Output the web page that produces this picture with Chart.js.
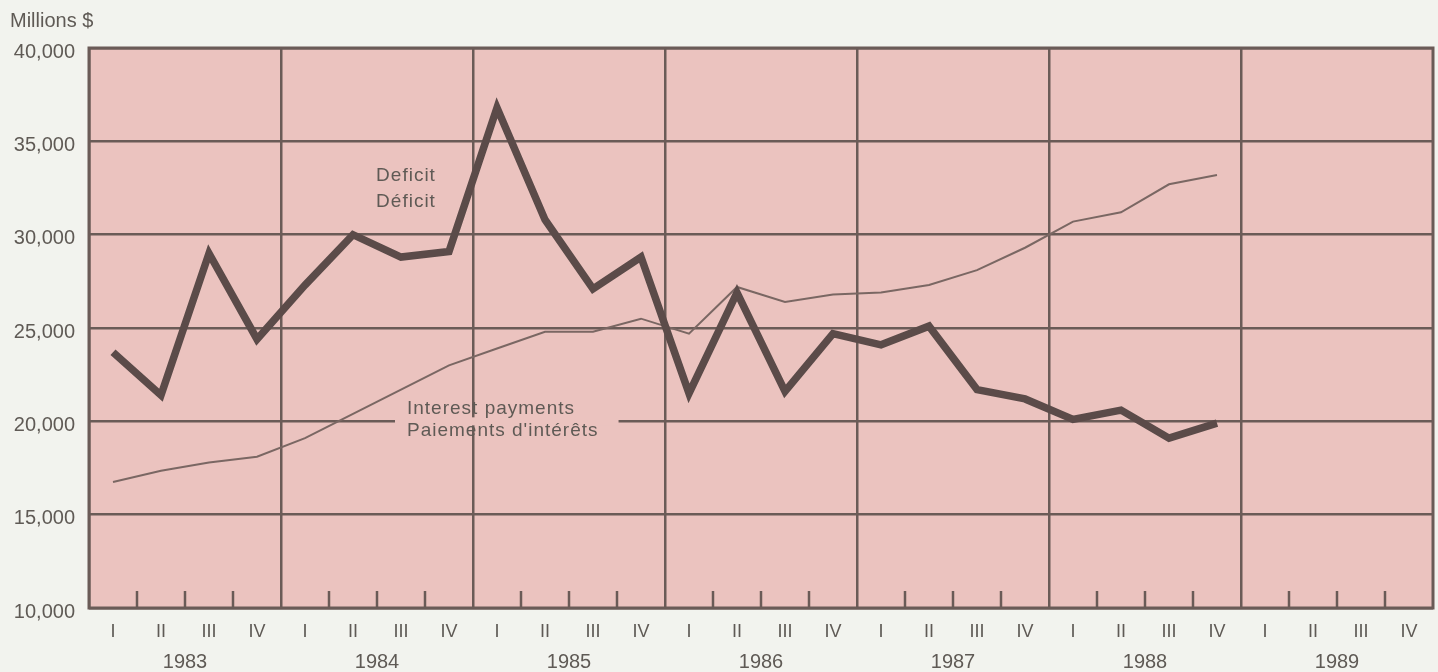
<!DOCTYPE html>
<html>
<head>
<meta charset="utf-8">
<script src="https://cdn.jsdelivr.net/npm/chart.js@4"></script>
<style>
html,body{margin:0;padding:0;background:#f2f3ee;}
#wrap{width:1438px;height:672px;}
</style>
</head>
<body>
<div id="wrap"><canvas id="c" width="1438" height="672"></canvas></div>
<script>
const years = ['1983','1984','1985','1986','1987','1988','1989'];
const quarters = ['I','II','III','IV'];
const deficit = [23700, 21400, 29000, 24400, 27300, 30000, 28800, 29100,
                 36800, 30800, 27100, 28800, 21500, 26900, 21600, 24700,
                 24100, 25100, 21700, 21200, 20100, 20600, 19100, 19900];
const interest = [16750, 17350, 17800, 18100, 19100, 20400, 21700, 23000,
                  23900, 24800, 24800, 25500, 24700, 27200, 26400, 26800,
                  26900, 27300, 28100, 29300, 30700, 31200, 32700, 33200];
const yTicks = [10000, 15000, 20000, 25000, 30000, 35000, 40000];
const deficitLabel = ['Deficit', 'Déficit'];
const interestLabel = ['Interest payments', 'Paiements d\'intérêts'];

const quarterLabels = [];
years.forEach(() => quarters.forEach(q => quarterLabels.push(q)));

const INK = '#6a5b57';
const TEXT = '#5f5a55';
const PINK = '#ebc3bf';
const FONT = '"Liberation Sans", Arial, sans-serif';

const framePlugin = {
  id: 'frame',
  beforeDraw(chart) {
    const {ctx, chartArea: a} = chart;
    ctx.save();
    ctx.fillStyle = PINK;
    ctx.fillRect(a.left, a.top, a.right - a.left, a.bottom - a.top);
    ctx.restore();
  },
  beforeDatasetsDraw(chart) {
    const {ctx, chartArea: a, scales} = chart;
    const xs = scales.x, ys = scales.y;
    ctx.save();
    // quarter tick marks inside the plot bottom
    ctx.strokeStyle = INK;
    ctx.lineWidth = 2.5;
    for (let i = 1; i < quarterLabels.length; i++) {
      if (i % 4 === 0) continue;
      const x = (xs.getPixelForValue(i - 1) + xs.getPixelForValue(i)) / 2;
      ctx.beginPath();
      ctx.moveTo(x, a.bottom);
      ctx.lineTo(x, a.bottom - 17);
      ctx.stroke();
    }
    // frame
    ctx.lineWidth = 3;
    ctx.strokeRect(a.left, a.top, a.right - a.left, a.bottom - a.top);

    // annotations
    ctx.font = '19px ' + FONT;
    ctx.letterSpacing = '1px';
    ctx.fillStyle = TEXT;
    ctx.textBaseline = 'middle';
    // deficit label
    ctx.textAlign = 'center';
    const dx = xs.getPixelForValue(6) + 5;
    ctx.fillText(deficitLabel[0], dx, ys.getPixelForValue(33150));
    ctx.fillText(deficitLabel[1], dx, ys.getPixelForValue(31750));
    // interest label with mask over gridline
    ctx.textAlign = 'left';
    const ix = xs.getPixelForValue(6) + 6;
    const y1 = ys.getPixelForValue(20700);
    const y2 = ys.getPixelForValue(19470);
    const w = Math.max(ctx.measureText(interestLabel[0]).width, ctx.measureText(interestLabel[1]).width);
    ctx.fillStyle = PINK;
    ctx.fillRect(ix - 12, ys.getPixelForValue(20000) - 4, w + 32, 8);
    ctx.fillStyle = TEXT;
    ctx.fillText(interestLabel[0], ix, y1);
    ctx.fillText(interestLabel[1], ix, y2);
    ctx.restore();
  }
};

new Chart(document.getElementById('c'), {
  type: 'line',
  data: {
    labels: quarterLabels,
    datasets: [
      {label: 'Deficit', data: deficit, borderColor: '#5b4b49', borderWidth: 7.5,
       pointRadius: 0, tension: 0, fill: false, borderJoinStyle: 'miter', borderCapStyle: 'butt'},
      {label: 'Interest payments', data: interest, borderColor: '#7a6763', borderWidth: 2,
       pointRadius: 0, tension: 0, fill: false}
    ]
  },
  options: {
    responsive: false,
    animation: false,
    events: [],
    layout: {padding: {left: 10, right: 5, top: 0, bottom: 0}},
    plugins: {
      legend: {display: false},
      tooltip: {enabled: false},
      title: {
        display: true, text: 'Millions $', align: 'start', color: TEXT,
        font: {family: FONT, size: 20, weight: 'normal'},
        padding: {top: 9, bottom: 15}
      }
    },
    scales: {
      x: {
        type: 'category',
        position: 'bottom',
        offset: true,
        weight: 0,
        grid: {
          offset: true,
          drawTicks: false,
          lineWidth: 2.5,
          color: (c) => (c.index !== undefined && c.index % 4 === 0) ? INK : 'rgba(0,0,0,0)'
        },
        border: {display: false},
        ticks: {
          color: TEXT, padding: 13, maxRotation: 0, autoSkip: false,
          font: {family: FONT, size: 18}
        },
        afterFit: (s) => { s.height = 36; }
      },
      year: {
        type: 'linear',
        position: 'bottom',
        min: 0, max: quarterLabels.length,
        weight: 1,
        grid: {display: false, drawTicks: false},
        border: {display: false},
        afterBuildTicks: (s) => { s.ticks = years.map((y, k) => ({value: 4 * k + 2})); },
        ticks: {
          color: TEXT, padding: 6, maxRotation: 0, autoSkip: false,
          font: {family: FONT, size: 20},
          callback: (v) => years[(v - 2) / 4]
        },
        afterFit: (s) => { s.height = 28; }
      },
      y: {
        type: 'linear',
        min: yTicks[0], max: yTicks[yTicks.length - 1],
        afterBuildTicks: (s) => { s.ticks = yTicks.map(v => ({value: v})); },
        grid: {color: INK, lineWidth: 2.5, drawTicks: false},
        border: {display: false},
        ticks: {
          color: TEXT, padding: 14, labelOffset: 4,
          font: {family: FONT, size: 20},
          callback: (v) => v.toLocaleString('en-US')
        },
        afterFit: (s) => { s.width = 79; }
      }
    }
  },
  plugins: [framePlugin]
});
</script>
</body>
</html>
